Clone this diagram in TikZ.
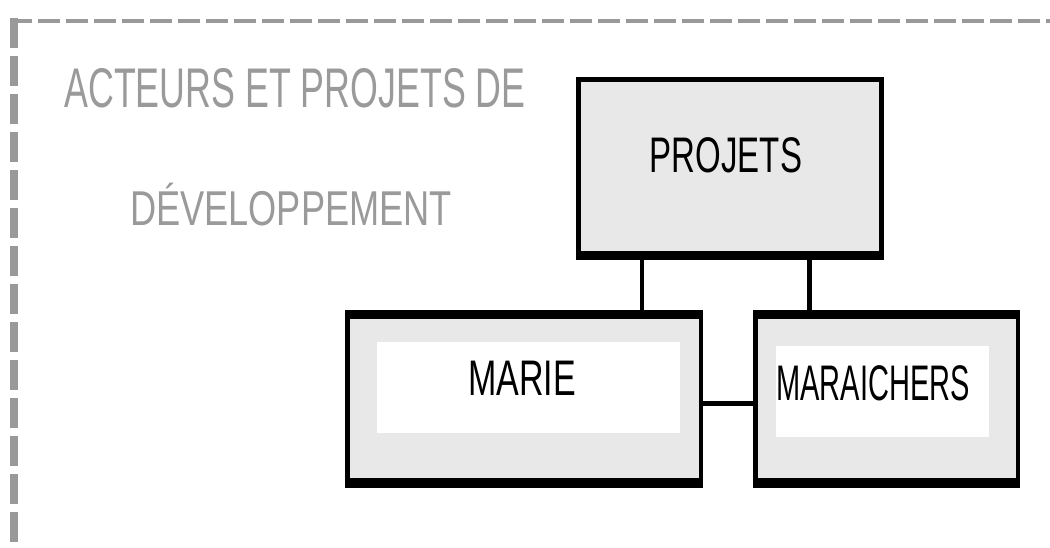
\documentclass[tikz,border=0pt]{standalone}
\usepackage{fontspec}
\setmainfont{Liberation Sans}
\begin{document}
\begin{tikzpicture}[x=1pt,y=-1pt,
  frameline/.style={draw=frame, line cap=butt},
  boxnode/.style={rectangle, draw=black, fill=boxgray, inner sep=0pt},
  whitepanel/.style={rectangle, fill=white, inner sep=0pt},
  link/.style={draw=black, line cap=butt},
  titletext/.style={text=titlegray, inner sep=0pt, font=\fontsize{40}{40}\selectfont},
  boxtext/.style={text=black, inner sep=0pt, font=\fontsize{50}{50}\selectfont}]
\definecolor{frame}{HTML}{999999}
\definecolor{boxgray}{HTML}{E8E8E8}
\definecolor{titlegray}{HTML}{9A9A9A}
\useasboundingbox (0,0) rectangle (1050,547);

% dashed frame, top and left edges only
\draw[frameline, line width=4pt, dash pattern=on 22pt off 6pt] (10,20.5) -- (1050,20.5);
\draw[frameline, line width=8pt, dash pattern=on 30pt off 8pt] (14,18) -- (14,547);

% heading
\node[titletext] (head1) at (295,88) {\scalebox{0.64}[1]{\fontsize{55.9}{56}\selectfont ACTEURS ET PROJETS DE}};
\node[titletext] (head2) at (291,205) {\scalebox{0.74}[1]{\fontsize{48.9}{49}\selectfont DÉVELOPPEMENT}};

% PROJETS box
\node[boxnode, line width=5pt, minimum width=303pt, minimum height=178pt] (proj) at (730,168.5) {};
\fill[black] (proj.south west) rectangle ([yshift=9pt]proj.south east);
\node[boxtext] (projt) at (726,155) {\scalebox{0.66}[1]{PROJETS}};

% MARIE box
\node[boxnode, line width=4.5pt, minimum width=353.5pt, minimum height=173.5pt] (marie) at (524,399) {};
\fill[black] (marie.south west) rectangle ([yshift=10pt]marie.south east);
\fill[black] (marie.north west) rectangle ([yshift=-9pt]marie.north east);
\node[whitepanel, minimum width=303pt, minimum height=91pt] (mariep) at (528.5,387.5) {};
\node[boxtext] (mariet) at (522,378) {\scalebox{0.68}[1]{MARIE}};

% MARAICHERS box
\node[boxnode, line width=4.5pt, minimum width=262.5pt, minimum height=173.5pt] (mara) at (886.5,399) {};
\fill[black] (mara.south west) rectangle ([yshift=10pt]mara.south east);
\fill[black] (mara.north west) rectangle ([yshift=-9pt]mara.north east);
\node[whitepanel, minimum width=213pt, minimum height=91pt] (marap) at (882.5,391.5) {};
\node[boxtext] (marat) at (873,383) {\scalebox{0.58}[1]{MARAICHERS}};

% connectors
\coordinate (xa) at (642,0);
\coordinate (xb) at (809.5,0);
\coordinate (yc) at (0,403.5);
\draw[link, line width=4pt] (proj.south -| xa) -- (marie.north -| xa);
\draw[link, line width=5pt] (proj.south -| xb) -- (mara.north -| xb);
\draw[link, line width=5pt] (marie.east |- yc) -- (mara.west |- yc);
\end{tikzpicture}
\end{document}
